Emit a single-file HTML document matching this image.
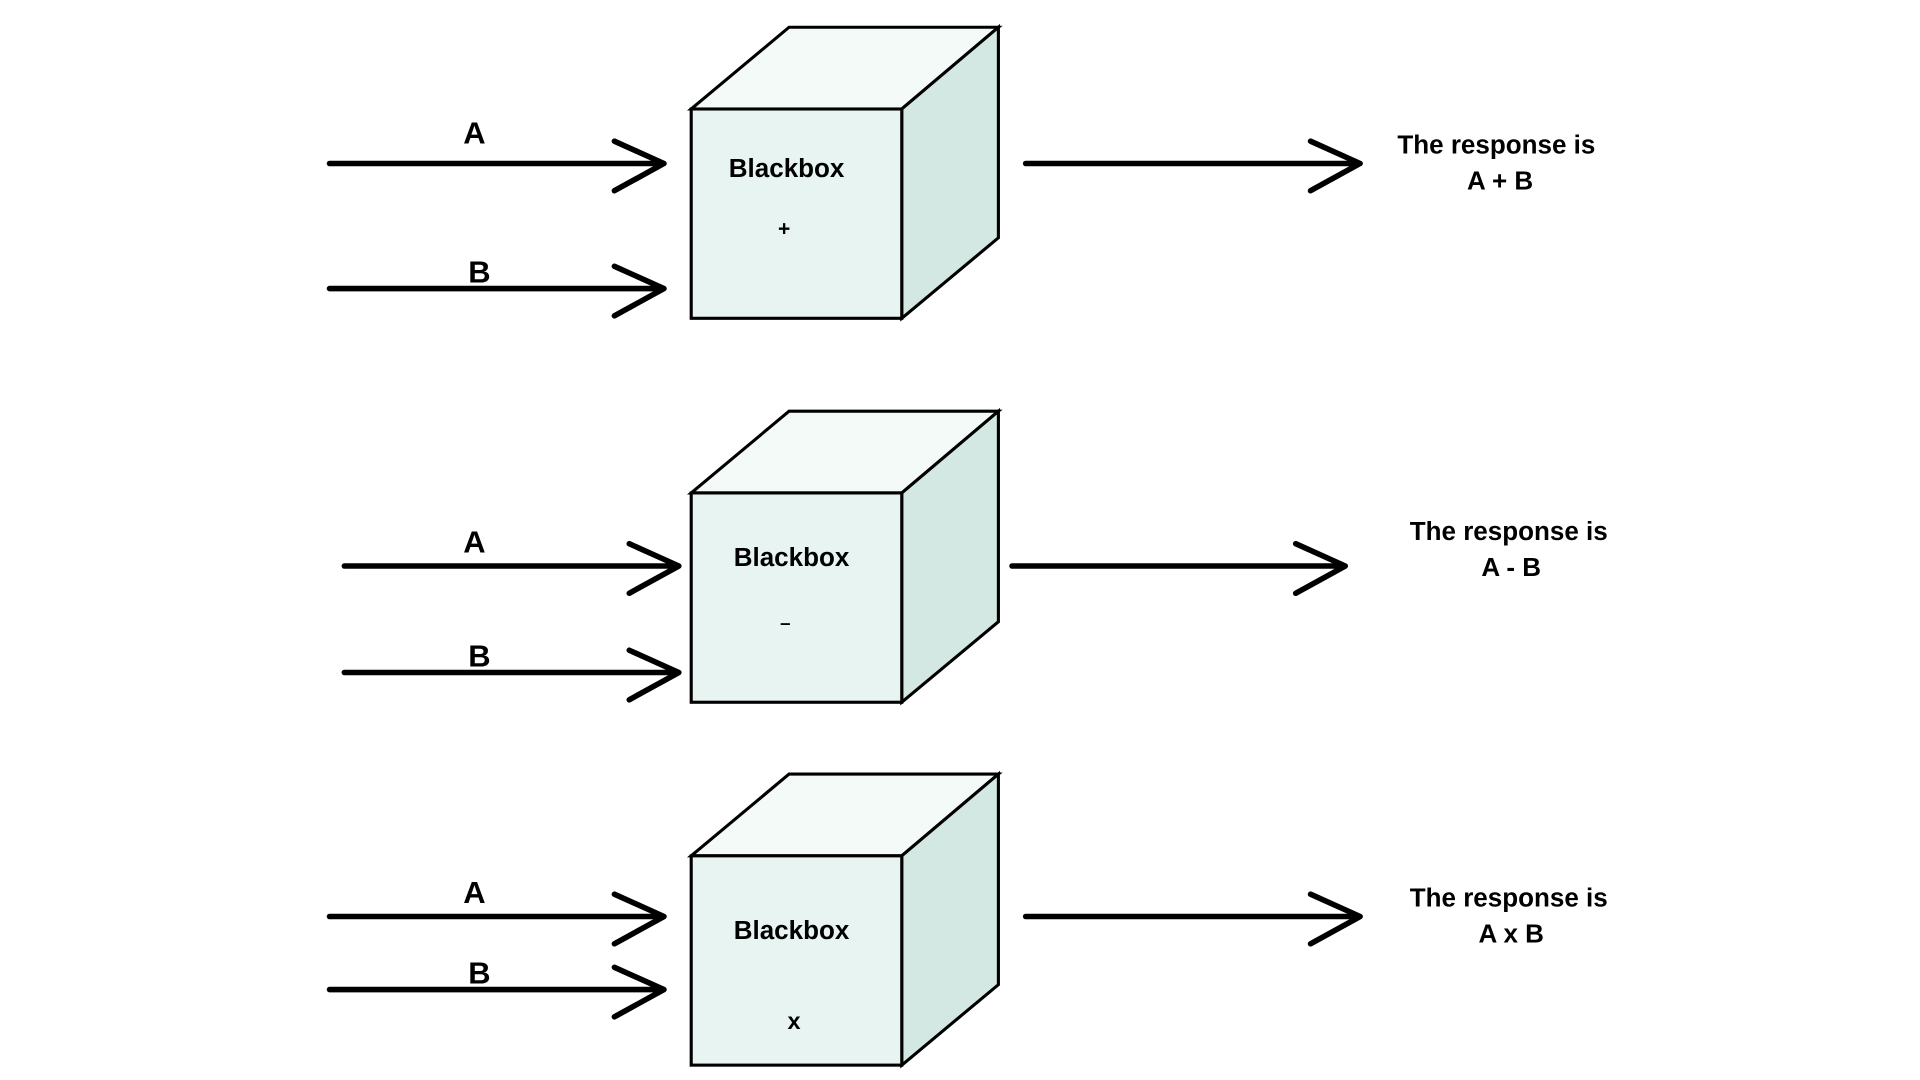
<!DOCTYPE html>
<html><head><meta charset="utf-8"><style>html,body{margin:0;padding:0;background:#fff;}svg{display:block}</style></head>
<body>
<svg width="1920" height="1080" viewBox="0 0 1550 872" preserveAspectRatio="none" xmlns="http://www.w3.org/2000/svg" font-family="Liberation Sans, sans-serif" font-weight="bold">
<defs>
<g id="box">
<polygon points="558,66 637,0 806,0 728,66" fill="#f3faf8" stroke="#000" stroke-width="2.5" stroke-linejoin="miter"/>
<polygon points="728,66 806,0 806,170 728,235" fill="#d3e8e2" stroke="#000" stroke-width="2.5"/>
<rect x="558" y="66" width="170" height="169" fill="#e8f4f1" stroke="#000" stroke-width="2.5"/>
</g>
</defs>
<use href="#box" transform="translate(0,22)"/>
<use href="#box" transform="translate(0,332)"/>
<use href="#box" transform="translate(0,625)"/>
<g stroke="#000" stroke-width="4.5" stroke-linecap="round" stroke-linejoin="round" fill="none">
<path d="M266,132H536M496,114L536,132L496,154"/>
<path d="M266,233H536M496,215L536,233L496,255"/>
<path d="M828,132H1098M1058,114L1098,132L1058,154"/>
<path d="M278,457H548M508,439L548,457L508,479"/>
<path d="M278,543H548M508,525L548,543L508,565"/>
<path d="M817,457H1086M1046,439L1086,457L1046,479"/>
<path d="M266,740H536M496,722L536,740L496,762"/>
<path d="M266,799H536M496,781L536,799L496,821"/>
<path d="M828,740H1098M1058,722L1098,740L1058,762"/>
</g>
<g font-size="25" text-anchor="middle" fill="#000">
<text x="383" y="116">A</text><text x="387" y="228">B</text>
<text x="383" y="446">A</text><text x="387" y="538">B</text>
<text x="383" y="729">A</text><text x="387" y="794">B</text>
</g>
<g font-size="21" text-anchor="middle" fill="#000">
<text x="635" y="143">Blackbox</text><text x="633" y="190" font-size="17">+</text>
<text x="639" y="457">Blackbox</text><text x="634" y="508" font-size="15">–</text>
<text x="639" y="758">Blackbox</text><text x="641" y="831" font-size="19">x</text>
<text x="1208" y="124">The response is</text><text x="1211" y="153">A + B</text>
<text x="1218" y="436">The response is</text><text x="1220" y="465">A - B</text>
<text x="1218" y="732">The response is</text><text x="1220" y="761">A x B</text>
</g>
</svg>
</body></html>
